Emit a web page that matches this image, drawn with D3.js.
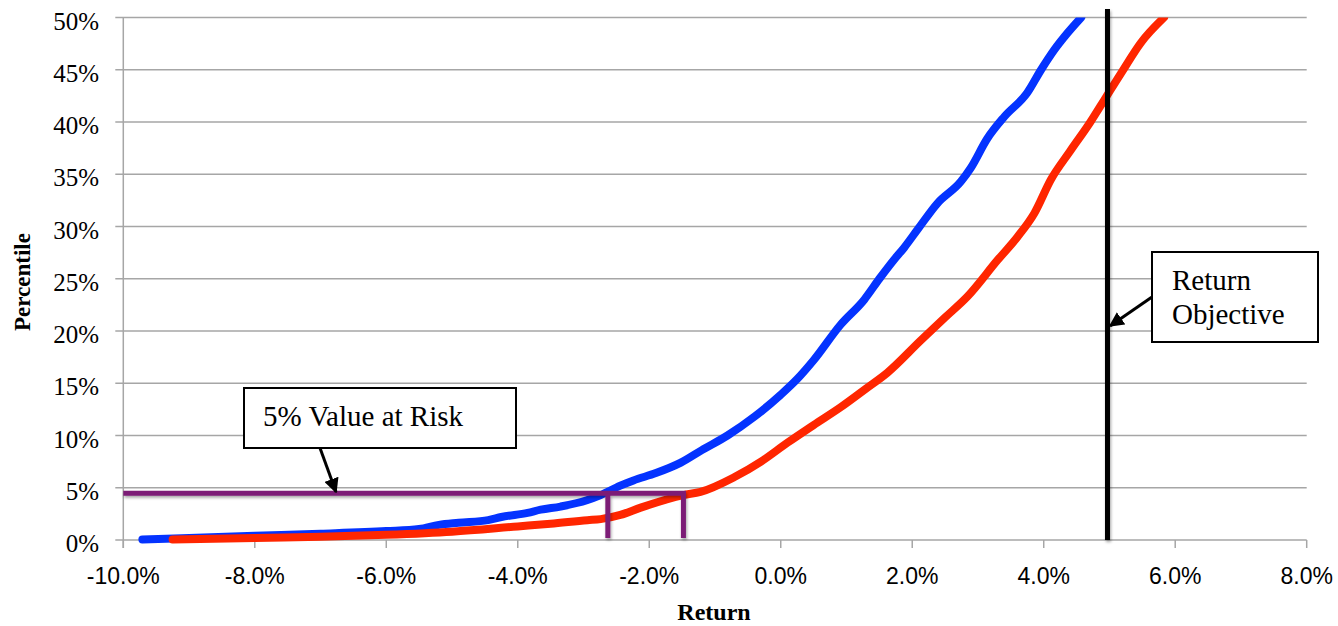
<!DOCTYPE html>
<html>
<head>
<meta charset="utf-8">
<script src="https://cdn.jsdelivr.net/npm/d3@7"></script>
<style>
  body { margin: 0; background: #fff; }
  #chart svg { display: block; }
</style>
</head>
<body>
<div id="chart"></div>
<script>
const width = 1338;
const height = 626;

// percentile curves: [return %, percentile %]
const blueSeries = [
    [-9.71, 0.05], [-8.0, 0.4], [-7.0, 0.6], [-6.0, 0.85], [-5.5, 1.05], [-5.2, 1.45],
    [-4.9, 1.65], [-4.45, 1.9], [-4.25, 2.2], [-3.85, 2.6], [-3.65, 2.9], [-3.35, 3.2],
    [-2.95, 3.8], [-2.74, 4.3], [-2.44, 5.2], [-2.24, 5.7], [-1.9, 6.4], [-1.52, 7.4],
    [-1.2, 8.6], [-0.81, 10.0], [-0.4, 11.8], [0.0, 13.9], [0.25, 15.4], [0.5, 17.2],
    [0.91, 20.6], [1.27, 23.0], [1.5, 25.0], [1.72, 26.8], [1.88, 28.0], [2.08, 29.7],
    [2.38, 32.2], [2.74, 34.3], [2.89, 35.6], [3.14, 38.4], [3.4, 40.5], [3.75, 42.8],
    [3.96, 45.0], [4.16, 46.9], [4.36, 48.5], [4.57, 50.0]
];
const redSeries = [
    [-9.25, 0.05], [-8.0, 0.2], [-7.0, 0.3], [-6.0, 0.5], [-5.0, 0.8], [-4.0, 1.3],
    [-3.5, 1.55], [-2.94, 1.9], [-2.74, 2.0], [-2.44, 2.4], [-2.13, 3.1], [-1.48, 4.3],
    [-1.22, 4.6], [-0.71, 6.0], [-0.3, 7.5], [0.1, 9.3], [0.5, 11.0], [0.91, 12.7],
    [1.3, 14.5], [1.62, 16.0], [2.13, 19.1], [2.5, 21.3], [2.84, 23.3], [3.3, 26.8],
    [3.6, 29.0], [3.86, 31.3], [4.11, 34.5], [4.4, 37.2], [4.71, 40.0], [4.92, 42.1],
    [5.18, 44.7], [5.48, 47.6], [5.83, 50.0]
];

const xTicks = [-10, -8, -6, -4, -2, 0, 2, 4, 6, 8];
const yTicks = [0, 5, 10, 15, 20, 25, 30, 35, 40, 45, 50];

const varLevel = 4.47;             // value-at-risk percentile line
const varReturns = [-2.63, -1.48]; // where each curve meets it
const returnObjective = 4.97;

const x = d3.scaleLinear().domain([-10, 8]).range([123.3, 1306.7]);
const y = d3.scaleLinear().domain([0, 50]).range([540, 17.5]);

const svg = d3.select("#chart")
    .append("svg")
    .attr("width", width)
    .attr("height", height);

svg.append("rect").attr("width", width).attr("height", height).attr("fill", "#fff");

const defs = svg.append("defs");
const shadow = defs.append("filter").attr("id", "shadow")
    .attr("filterUnits", "userSpaceOnUse")
    .attr("x", 0).attr("y", 0).attr("width", width).attr("height", height);
shadow.append("feDropShadow")
    .attr("dx", 1).attr("dy", 2).attr("stdDeviation", 1.5)
    .attr("flood-color", "#000").attr("flood-opacity", 0.35);

defs.append("clipPath").attr("id", "plot-clip")
    .append("rect")
    .attr("x", x(-10)).attr("y", y(50))
    .attr("width", x(8) - x(-10)).attr("height", y(0) - y(50) + 10);

defs.append("marker")
    .attr("id", "arrow")
    .attr("viewBox", "0 0 10 10")
    .attr("refX", 9).attr("refY", 5)
    .attr("markerWidth", 5).attr("markerHeight", 5)
    .attr("markerUnits", "strokeWidth")
    .attr("orient", "auto")
    .append("path")
    .attr("d", "M0,0 L10,5 L0,10 z")
    .attr("fill", "#000");

// horizontal gridlines
svg.append("g")
    .selectAll("line")
    .data(yTicks)
    .enter().append("line")
    .attr("x1", x(-10) - 8)
    .attr("x2", x(8))
    .attr("y1", d => y(d))
    .attr("y2", d => y(d))
    .attr("stroke", "#a6a6a6")
    .attr("stroke-width", 1.5);

// y axis line
svg.append("line")
    .attr("x1", x(-10)).attr("x2", x(-10))
    .attr("y1", y(50)).attr("y2", y(0) + 8)
    .attr("stroke", "#a6a6a6")
    .attr("stroke-width", 1.5);

// x ticks
svg.append("g")
    .selectAll("line")
    .data(xTicks)
    .enter().append("line")
    .attr("x1", d => x(d)).attr("x2", d => x(d))
    .attr("y1", y(0)).attr("y2", y(0) + 8)
    .attr("stroke", "#a6a6a6")
    .attr("stroke-width", 1.5);

svg.append("g")
    .selectAll("text")
    .data(xTicks)
    .enter().append("text")
    .attr("x", d => x(d))
    .attr("y", 584)
    .attr("text-anchor", "middle")
    .style("font-family", "'Liberation Sans', Arial, sans-serif")
    .style("font-size", "23px")
    .attr("fill", "#000")
    .text(d => d.toFixed(1) + "%");

svg.append("g")
    .selectAll("text")
    .data(yTicks)
    .enter().append("text")
    .attr("x", 99)
    .attr("y", d => y(d) + 12)
    .attr("text-anchor", "end")
    .style("font-family", "'Liberation Serif', 'Times New Roman', serif")
    .style("font-size", "25px")
    .attr("fill", "#000")
    .text(d => d + "%");

// axis titles
svg.append("text")
    .attr("x", 714)
    .attr("y", 620)
    .attr("text-anchor", "middle")
    .style("font-family", "'Liberation Serif', 'Times New Roman', serif")
    .style("font-size", "24px")
    .style("font-weight", "bold")
    .text("Return");

svg.append("text")
    .attr("transform", "translate(30,282) rotate(-90)")
    .attr("text-anchor", "middle")
    .style("font-family", "'Liberation Serif', 'Times New Roman', serif")
    .style("font-size", "23px")
    .style("font-weight", "bold")
    .text("Percentile");

// curves
const line = d3.line().curve(d3.curveMonotoneX).x(d => x(d[0])).y(d => y(d[1]));
const curves = svg.append("g").attr("clip-path", "url(#plot-clip)");

curves.append("path")
    .datum(blueSeries)
    .attr("d", line)
    .attr("fill", "none")
    .attr("stroke", "#0433ff")
    .attr("stroke-width", 8)
    .attr("stroke-linecap", "round")
    .attr("stroke-linejoin", "round");

curves.append("path")
    .datum(redSeries)
    .attr("d", line)
    .attr("fill", "none")
    .attr("stroke", "#ff2600")
    .attr("stroke-width", 8)
    .attr("stroke-linecap", "round")
    .attr("stroke-linejoin", "round");

// value at risk bracket
const varGroup = svg.append("g").attr("filter", "url(#shadow)");
varGroup.append("line")
    .attr("x1", x(-10)).attr("x2", x(varReturns[1]) + 2.5)
    .attr("y1", y(varLevel)).attr("y2", y(varLevel))
    .attr("stroke", "#7b1c76")
    .attr("stroke-width", 5);
varGroup.selectAll(".var-drop")
    .data(varReturns)
    .enter().append("line")
    .attr("class", "var-drop")
    .attr("x1", d => x(d)).attr("x2", d => x(d))
    .attr("y1", y(varLevel)).attr("y2", y(0) - 2)
    .attr("stroke", "#7b1c76")
    .attr("stroke-width", 5);

// return objective
svg.append("line")
    .attr("x1", x(returnObjective)).attr("x2", x(returnObjective))
    .attr("y1", 9).attr("y2", y(0))
    .attr("stroke", "#000")
    .attr("stroke-width", 5)
    .attr("filter", "url(#shadow)");

// callouts
function callout(box, lines, from, to) {
    const g = svg.append("g");
    g.append("line")
        .attr("x1", from[0]).attr("y1", from[1])
        .attr("x2", to[0]).attr("y2", to[1])
        .attr("stroke", "#000")
        .attr("stroke-width", 3)
        .attr("marker-end", "url(#arrow)");
    g.append("rect")
        .attr("x", box.x).attr("y", box.y)
        .attr("width", box.w).attr("height", box.h)
        .attr("fill", "#fff")
        .attr("stroke", "#000")
        .attr("stroke-width", 2);
    g.selectAll("text")
        .data(lines)
        .enter().append("text")
        .attr("x", box.x + box.tx)
        .attr("y", (d, i) => box.y + box.ty + i * 34)
        .style("font-family", "'Liberation Serif', 'Times New Roman', serif")
        .style("font-size", "29px")
        .attr("fill", "#000")
        .text(d => d);
}

callout({ x: 244, y: 388, w: 272, h: 60, tx: 19, ty: 38 }, ["5% Value at Risk"],
    [320, 448], [336, 492]);
callout({ x: 1152, y: 252, w: 166, h: 90, tx: 20, ty: 38 }, ["Return", "Objective"],
    [1152, 297], [1110, 326]);
</script>
</body>
</html>
